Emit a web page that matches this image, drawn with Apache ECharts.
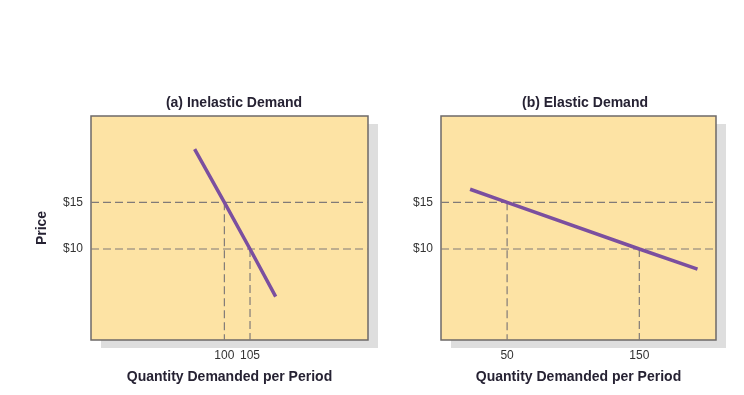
<!DOCTYPE html>
<html>
<head>
<meta charset="utf-8">
<script src="https://cdn.jsdelivr.net/npm/echarts@6/dist/echarts.min.js"></script>
<style>
  html, body { margin: 0; padding: 0; background: #fff; }
  #chart { width: 744px; height: 395px; }
</style>
</head>
<body>
<div id="chart"></div>
<script>
// panel titles
const panelTitles = ['(a) Inelastic Demand', '(b) Elastic Demand']
const xAxisName = 'Quantity Demanded per Period'
const yAxisName = 'Price'

// price tick labels (both panels)
const priceTicks = [10, 15]

// (a) inelastic demand: quantity ticks and demand curve
const inelasticTicks = [100, 105]
const inelasticCurve = [[94.2, 20.7], [100, 15], [105, 10], [110, 4.9]]

// (b) elastic demand: quantity ticks and demand curve
const elasticTicks = [50, 150]
const elasticCurve = [[22, 16.4], [50, 15], [150, 10], [194, 7.85]]

// axis ranges
const inelasticRange = [74, 128]
const elasticRange = [0, 208]
const priceRange = [0.25, 24.25]

const chart = echarts.init(document.getElementById('chart'))

const purple = '#7b4f9f'
const dashColor = '#807a78'
const textColor = '#262233'
const narrow = "'Liberation Sans Narrow', 'Liberation Sans', Arial, sans-serif"

// panel boxes (left, width); top / height shared
const boxes = [[91, 277], [441, 275]]
const boxTop = 116
const boxHeight = 224

// dashed guide lines: full-width horizontal at price, vertical from price to the bottom
const guideSeries = (xIdx, range, ticks) => {
  const out = []
  ticks.forEach((q, i) => {
    const p = priceTicks[priceTicks.length - 1 - i]   // first quantity goes with the higher price
    out.push({
      type: 'line', xAxisIndex: xIdx, yAxisIndex: xIdx, symbol: 'none', silent: true,
      lineStyle: { color: dashColor, width: 1.2, type: [8, 4] },
      data: [[range[0], p], [range[1], p]]
    })
    out.push({
      type: 'line', xAxisIndex: xIdx, yAxisIndex: xIdx, symbol: 'none', silent: true,
      lineStyle: { color: dashColor, width: 1.2, type: [8, 4] },
      data: [[q, p], [q, priceRange[0]]]
    })
  })
  return out
}

const xAxisBase = (idx, range, ticks) => ({
  type: 'value',
  gridIndex: idx,
  min: range[0],
  max: range[1],
  axisLine: { show: false },
  axisTick: { show: false },
  splitLine: { show: false },
  axisLabel: { customValues: ticks, color: '#333', fontSize: 12, margin: 10, fontFamily: 'Liberation Sans, Arial' },
  name: xAxisName,
  nameLocation: 'middle',
  nameGap: 30,
  nameTextStyle: { fontSize: 14, fontWeight: 'bold', color: textColor, fontFamily: narrow }
})

const yAxisBase = (idx) => ({
  type: 'value',
  gridIndex: idx,
  min: priceRange[0],
  max: priceRange[1],
  axisLine: { show: false },
  axisTick: { show: false },
  splitLine: { show: false },
  axisLabel: {
    customValues: priceTicks, color: '#333', fontSize: 12, margin: 8,
    fontFamily: 'Liberation Sans, Arial',
    formatter: v => '$' + v
  }
})

const option = {
  animation: false,
  // drop shadows behind each panel
  graphic: boxes.map(b => ({
    type: 'rect',
    z: -10,
    silent: true,
    shape: { x: b[0] + 10, y: boxTop + 8, width: b[1], height: boxHeight },
    style: { fill: '#dedede' }
  })),
  title: [
    { text: panelTitles[0], left: 229, top: 91, textAlign: 'center',
      textStyle: { fontSize: 14, fontWeight: 'bold', color: textColor, fontFamily: narrow } },
    { text: panelTitles[1], left: 580, top: 91, textAlign: 'center',
      textStyle: { fontSize: 14, fontWeight: 'bold', color: textColor, fontFamily: narrow } }
  ],
  grid: boxes.map(b => ({
    show: true,
    z: 1,
    left: b[0],
    width: b[1],
    top: boxTop,
    height: boxHeight,
    backgroundColor: '#fde3a4',
    borderColor: '#6e6a68',
    borderWidth: 1.5
  })),
  xAxis: [
    xAxisBase(0, inelasticRange, inelasticTicks),
    xAxisBase(1, elasticRange, elasticTicks)
  ],
  yAxis: [
    Object.assign(yAxisBase(0), {
      name: yAxisName,
      nameLocation: 'middle',
      nameRotate: 90,
      nameGap: 42,
      nameTextStyle: { fontSize: 14, fontWeight: 'bold', color: textColor, fontFamily: narrow }
    }),
    yAxisBase(1)
  ],
  series: [
    ...guideSeries(0, inelasticRange, inelasticTicks),
    ...guideSeries(1, elasticRange, elasticTicks),
    {
      type: 'line', xAxisIndex: 0, yAxisIndex: 0, symbol: 'none', silent: true,
      lineStyle: { color: purple, width: 3.5 },
      data: inelasticCurve
    },
    {
      type: 'line', xAxisIndex: 1, yAxisIndex: 1, symbol: 'none', silent: true,
      lineStyle: { color: purple, width: 3.5 },
      data: elasticCurve
    }
  ]
}

chart.setOption(option)
</script>
</body>
</html>
